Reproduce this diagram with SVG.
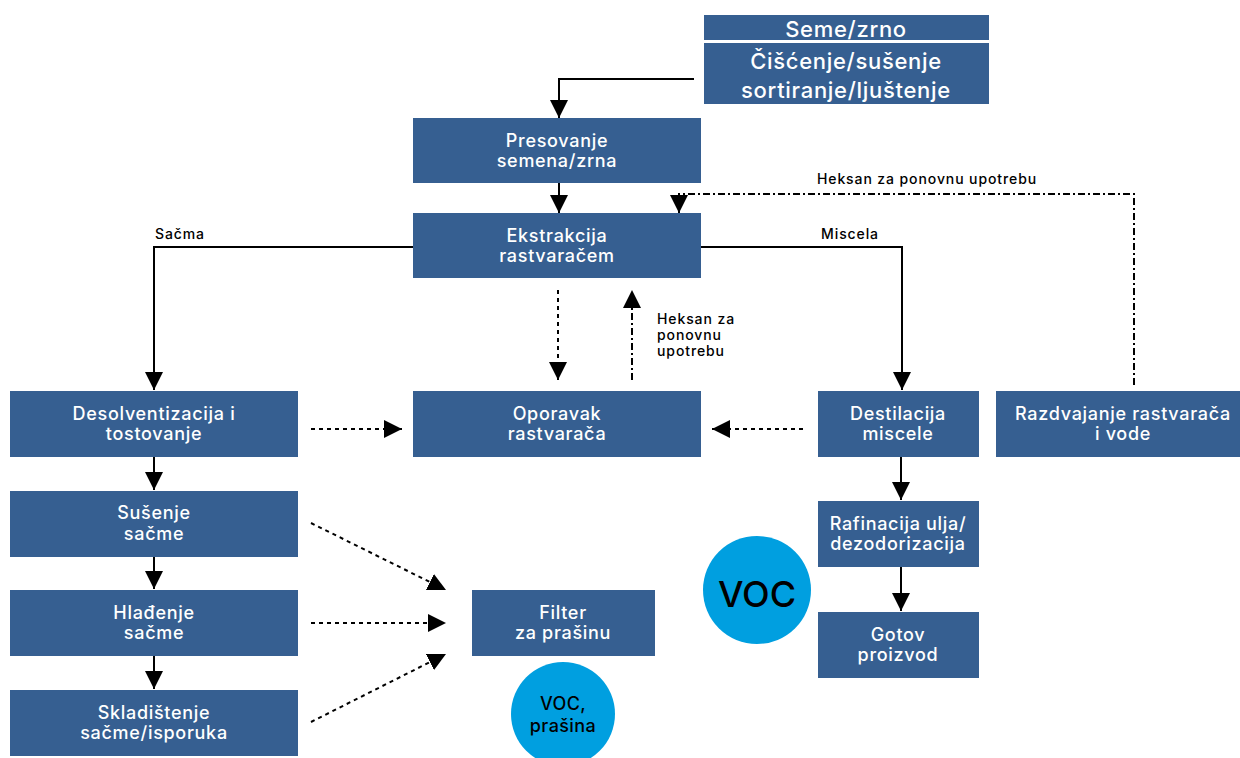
<svg xmlns="http://www.w3.org/2000/svg" width="1240" height="758" viewBox="0 0 1240 758">
<defs>
<marker id="ah" viewBox="0 0 10 10" refX="10" refY="5" markerWidth="18" markerHeight="19" markerUnits="userSpaceOnUse" orient="auto"><path d="M0,0 L10,5 L0,10 Z" fill="#000"/></marker>
<style>
.box{fill:#365f91}
.t{font-family:Inter,"Liberation Sans",Arial,sans-serif;font-weight:500;font-size:18px;letter-spacing:0.7px;fill:#fff;text-anchor:middle}
.tl{font-family:Inter,"Liberation Sans",Arial,sans-serif;font-weight:500;font-size:22px;letter-spacing:0.7px;fill:#fff;text-anchor:middle}
.lb{font-family:Inter,"Liberation Sans",Arial,sans-serif;font-weight:500;font-size:14px;letter-spacing:0.9px;fill:#000}
.c{fill:#009fe0}
.ct{font-family:Inter,"Liberation Sans",Arial,sans-serif;font-weight:500;fill:#000;text-anchor:middle}
.solid{fill:none;stroke:#000;stroke-width:2}
.dot{fill:none;stroke:#000;stroke-width:2;stroke-dasharray:4 4}
.dd{fill:none;stroke:#000;stroke-width:2;stroke-dasharray:7 3 2 3}
</style>
</defs>
<rect width="1240" height="758" fill="#fff"/>
<g id="connectors">
<path class="solid" d="M694,79 H559 V118" marker-end="url(#ah)"/>
<path class="solid" d="M559,183 V213" marker-end="url(#ah)"/>
<path class="dd" d="M1134,385 V194 H679 V213" marker-end="url(#ah)"/>
<path class="solid" d="M701,247 H902 V390" marker-end="url(#ah)"/>
<path class="solid" d="M413,247 H154 V390" marker-end="url(#ah)"/>
<path class="dot" d="M558,290 V380" marker-end="url(#ah)"/>
<path class="dd" d="M632,380 V290" marker-end="url(#ah)"/>
<path class="dot" d="M311,429 H402" marker-end="url(#ah)"/>
<path class="dot" d="M803,429 H712" marker-end="url(#ah)"/>
<path class="solid" d="M154,457 V490" marker-end="url(#ah)"/>
<path class="solid" d="M154,557 V589" marker-end="url(#ah)"/>
<path class="solid" d="M154,656 V689" marker-end="url(#ah)"/>
<path class="solid" d="M901,457 V500" marker-end="url(#ah)"/>
<path class="solid" d="M901,567 V611" marker-end="url(#ah)"/>
<path class="dot" d="M311,523 L446,590" marker-end="url(#ah)"/>
<path class="dot" d="M311,623 H446" marker-end="url(#ah)"/>
<path class="dot" d="M311,722 L446,654" marker-end="url(#ah)"/>
</g>
<g id="labels">
<text class="lb" x="927" y="184" text-anchor="middle">Heksan za ponovnu upotrebu</text>
<text class="lb" x="850" y="239" text-anchor="middle">Miscela</text>
<text class="lb" x="180" y="239" text-anchor="middle">Sačma</text>
<text class="lb" x="657" y="324">Heksan za</text>
<text class="lb" x="657" y="340">ponovnu</text>
<text class="lb" x="657" y="356">upotrebu</text>
</g>
<g id="seme"><rect class="box" x="704" y="15" width="285" height="25"/><text class="tl" x="846" y="37">Seme/zrno</text></g>
<g id="ciscenje"><rect class="box" x="704" y="43" width="285" height="61"/><text class="tl" x="846" y="69">Čišćenje/sušenje</text><text class="tl" x="846" y="98">sortiranje/ljuštenje</text></g>
<g id="presovanje"><rect class="box" x="413" y="118" width="288" height="65"/><text class="t" x="557" y="147">Presovanje</text><text class="t" x="557" y="167">semena/zrna</text></g>
<g id="ekstrakcija"><rect class="box" x="413" y="213" width="288" height="65"/><text class="t" x="557" y="242">Ekstrakcija</text><text class="t" x="557" y="262">rastvaračem</text></g>
<g id="desolv"><rect class="box" x="10" y="391" width="288" height="66"/><text class="t" x="154" y="420">Desolventizacija i</text><text class="t" x="154" y="440">tostovanje</text></g>
<g id="oporavak"><rect class="box" x="413" y="391" width="288" height="66"/><text class="t" x="557" y="420">Oporavak</text><text class="t" x="557" y="440">rastvarača</text></g>
<g id="destilacija"><rect class="box" x="818" y="391" width="161" height="66"/><text class="t" x="898" y="420">Destilacija</text><text class="t" x="898" y="440">miscele</text></g>
<g id="razdvajanje"><rect class="box" x="996" y="391" width="244" height="66"/><text class="t" x="1123" y="420">Razdvajanje rastvarača</text><text class="t" x="1123" y="440">i vode</text></g>
<g id="susenje"><rect class="box" x="10" y="491" width="288" height="66"/><text class="t" x="154" y="519">Sušenje</text><text class="t" x="154" y="540">sačme</text></g>
<g id="hladjenje"><rect class="box" x="10" y="590" width="288" height="66"/><text class="t" x="154" y="619">Hlađenje</text><text class="t" x="154" y="639">sačme</text></g>
<g id="skladistenje"><rect class="box" x="10" y="690" width="288" height="66"/><text class="t" x="154" y="719">Skladištenje</text><text class="t" x="154" y="739">sačme/isporuka</text></g>
<g id="filter"><rect class="box" x="472" y="590" width="183" height="66"/><text class="t" x="563" y="619">Filter</text><text class="t" x="563" y="639">za prašinu</text></g>
<g id="rafinacija"><rect class="box" x="818" y="501" width="161" height="66"/><text class="t" x="898" y="530">Rafinacija ulja/</text><text class="t" x="898" y="550">dezodorizacija</text></g>
<g id="gotov"><rect class="box" x="818" y="612" width="161" height="66"/><text class="t" x="898" y="641">Gotov</text><text class="t" x="898" y="661">proizvod</text></g>
<g id="voc1"><circle class="c" cx="757" cy="590" r="54"/><text class="ct" x="757" y="607" font-size="36">VOC</text></g>
<g id="voc2"><circle class="c" cx="563" cy="714" r="52"/><text class="ct" x="563" y="710" font-size="18" letter-spacing="0.4">VOC,</text><text class="ct" x="563" y="732" font-size="18" letter-spacing="0.4">prašina</text></g>
</svg>
